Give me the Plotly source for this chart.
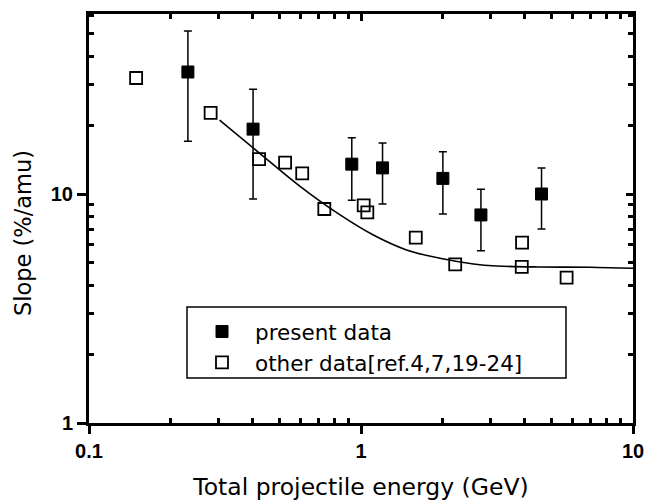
import plotly.graph_objects as go

# present data (filled squares) with error bars
present_x = [0.231, 0.401, 0.925, 1.20, 2.00, 2.76, 4.61]
present_y = [34.1, 19.2, 13.5, 13.0, 11.7, 8.1, 10.0]
present_hi = [51.5, 28.7, 17.6, 16.7, 15.3, 10.5, 13.0]
present_lo = [17.0, 9.5, 9.4, 9.04, 8.18, 5.65, 7.03]

# other data (open squares)
other_x = [0.149, 0.280, 0.422, 0.526, 0.608, 0.733, 1.023, 1.055, 1.59, 3.91, 2.22, 3.90, 5.70]
other_y = [32.1, 22.6, 14.2, 13.7, 12.3, 8.6, 8.92, 8.32, 6.45, 6.13, 4.93, 4.81, 4.31]

# fitted curve
curve_x = [0.302, 0.42, 0.597, 0.838, 1.11, 1.47, 1.95, 2.59, 3.15, 4.5, 6.95, 10.0]
curve_y = [21.0, 15.2, 10.8, 8.1, 6.62, 5.7, 5.24, 4.95, 4.85, 4.80, 4.79, 4.74]

x_ticks = [0.1, 1, 10]
x_ticklabels = ["0.1", "1", "10"]
y_ticks = [1, 10]
y_ticklabels = ["1", "10"]
x_minor = [m * d for d in (0.1, 1) for m in range(2, 10)]
y_minor = [m * d for d in (1, 10) for m in range(2, 10)]

X_RANGE = [-1, 1]
Y_RANGE = [0, 1.786]

TXT = "DejaVu Sans"
tick_font = dict(family="Liberation Sans", size=20, color="black", weight="bold")

# plot area on screen spans x 89..633, y 14..423
PL, PR, PT, PB = 89, 633, 14, 423
def px(x):
    return (x - PL) / (PR - PL)
def py(y):
    return (PB - y) / (PB - PT)

fig = go.Figure()
fig.add_trace(go.Scatter(
    x=curve_x, y=curve_y, mode="lines", line=dict(color="black", width=1.6, shape="spline"),
    showlegend=False, hoverinfo="skip"))
fig.add_trace(go.Scatter(
    x=present_x, y=present_y, mode="markers", name="present data",
    marker=dict(symbol="square", size=12, color="black", line=dict(color="black", width=1)),
    error_y=dict(type="data", symmetric=False,
                 array=[h - v for h, v in zip(present_hi, present_y)],
                 arrayminus=[v - l for v, l in zip(present_y, present_lo)],
                 color="black", thickness=1.5, width=4)))
fig.add_trace(go.Scatter(
    x=other_x, y=other_y, mode="markers", name="other data[ref.4,7,19-24]",
    marker=dict(symbol="square-open", size=12, color="black", line=dict(width=1.8))))
# invisible trace so the mirrored top/right axes get drawn
fig.add_trace(go.Scatter(
    x=[1], y=[1], xaxis="x2", yaxis="y2", mode="markers",
    marker=dict(opacity=0), showlegend=False, hoverinfo="skip"))

common = dict(type="log", showgrid=False, zeroline=False, showline=True, automargin=False,
              linecolor="black", linewidth=3, tickcolor="black")
minor_x = dict(tickmode="array", tickvals=x_minor, ticks="inside", ticklen=5, tickwidth=2.5, tickcolor="black")
minor_y = dict(tickmode="array", tickvals=y_minor, ticks="inside", ticklen=5, tickwidth=2.5, tickcolor="black")

fig.update_layout(
    width=647, height=502,
    margin=dict(l=89, r=14, t=14, b=79),
    paper_bgcolor="white", plot_bgcolor="white",
    font=dict(family=TXT, color="black"),
    xaxis=dict(**common, range=X_RANGE, tickmode="array", tickvals=x_ticks, ticktext=x_ticklabels,
               ticks="outside", ticklen=8, tickwidth=2.5, tickfont=tick_font, minor=minor_x,
               ticklabeloverflow="allow",
               title=dict(text="Total projectile energy (GeV)", font=dict(family=TXT, size=23.5), standoff=18)),
    yaxis=dict(**common, range=Y_RANGE, tickmode="array", tickvals=y_ticks, ticktext=y_ticklabels,
               ticks="outside", ticklen=9, tickwidth=2.5, tickfont=tick_font, minor=minor_y,
               ticklabeloverflow="allow"),
    xaxis2=dict(**common, overlaying="x", side="top", anchor="y2", range=X_RANGE,
                tickmode="array", tickvals=x_ticks, showticklabels=False,
                ticks="inside", ticklen=7, tickwidth=2.5, minor=minor_x),
    yaxis2=dict(**common, overlaying="y", side="right", anchor="x2", range=Y_RANGE,
                tickmode="array", tickvals=y_ticks, showticklabels=False,
                ticks="inside", ticklen=7, tickwidth=2.5, minor=minor_y),
    legend=dict(x=px(189), y=py(311), xanchor="left", yanchor="top",
                bgcolor="rgba(0,0,0,0)", borderwidth=0, itemwidth=56,
                font=dict(family=TXT, size=21.5, color="black"),
                tracegroupgap=0),
    shapes=[dict(type="rect", xref="paper", yref="paper",
                 x0=px(187), x1=px(566), y0=py(378), y1=py(307),
                 line=dict(color="black", width=1.5), fillcolor="white", layer="below")],
    annotations=[dict(text="Slope (%/amu)", xref="paper", yref="paper",
                      x=px(23), y=py(233), xanchor="center", yanchor="middle",
                      textangle=-90, showarrow=False,
                      font=dict(family=TXT, size=22.5, color="black"))],
    showlegend=True,
)

# remove the page's default body margin and scrollbars so the figure fills the window exactly
fig.write_html("out.html", config={"displayModeBar": False},
               post_script="document.body.style.margin='0';document.body.style.overflow='hidden';")
